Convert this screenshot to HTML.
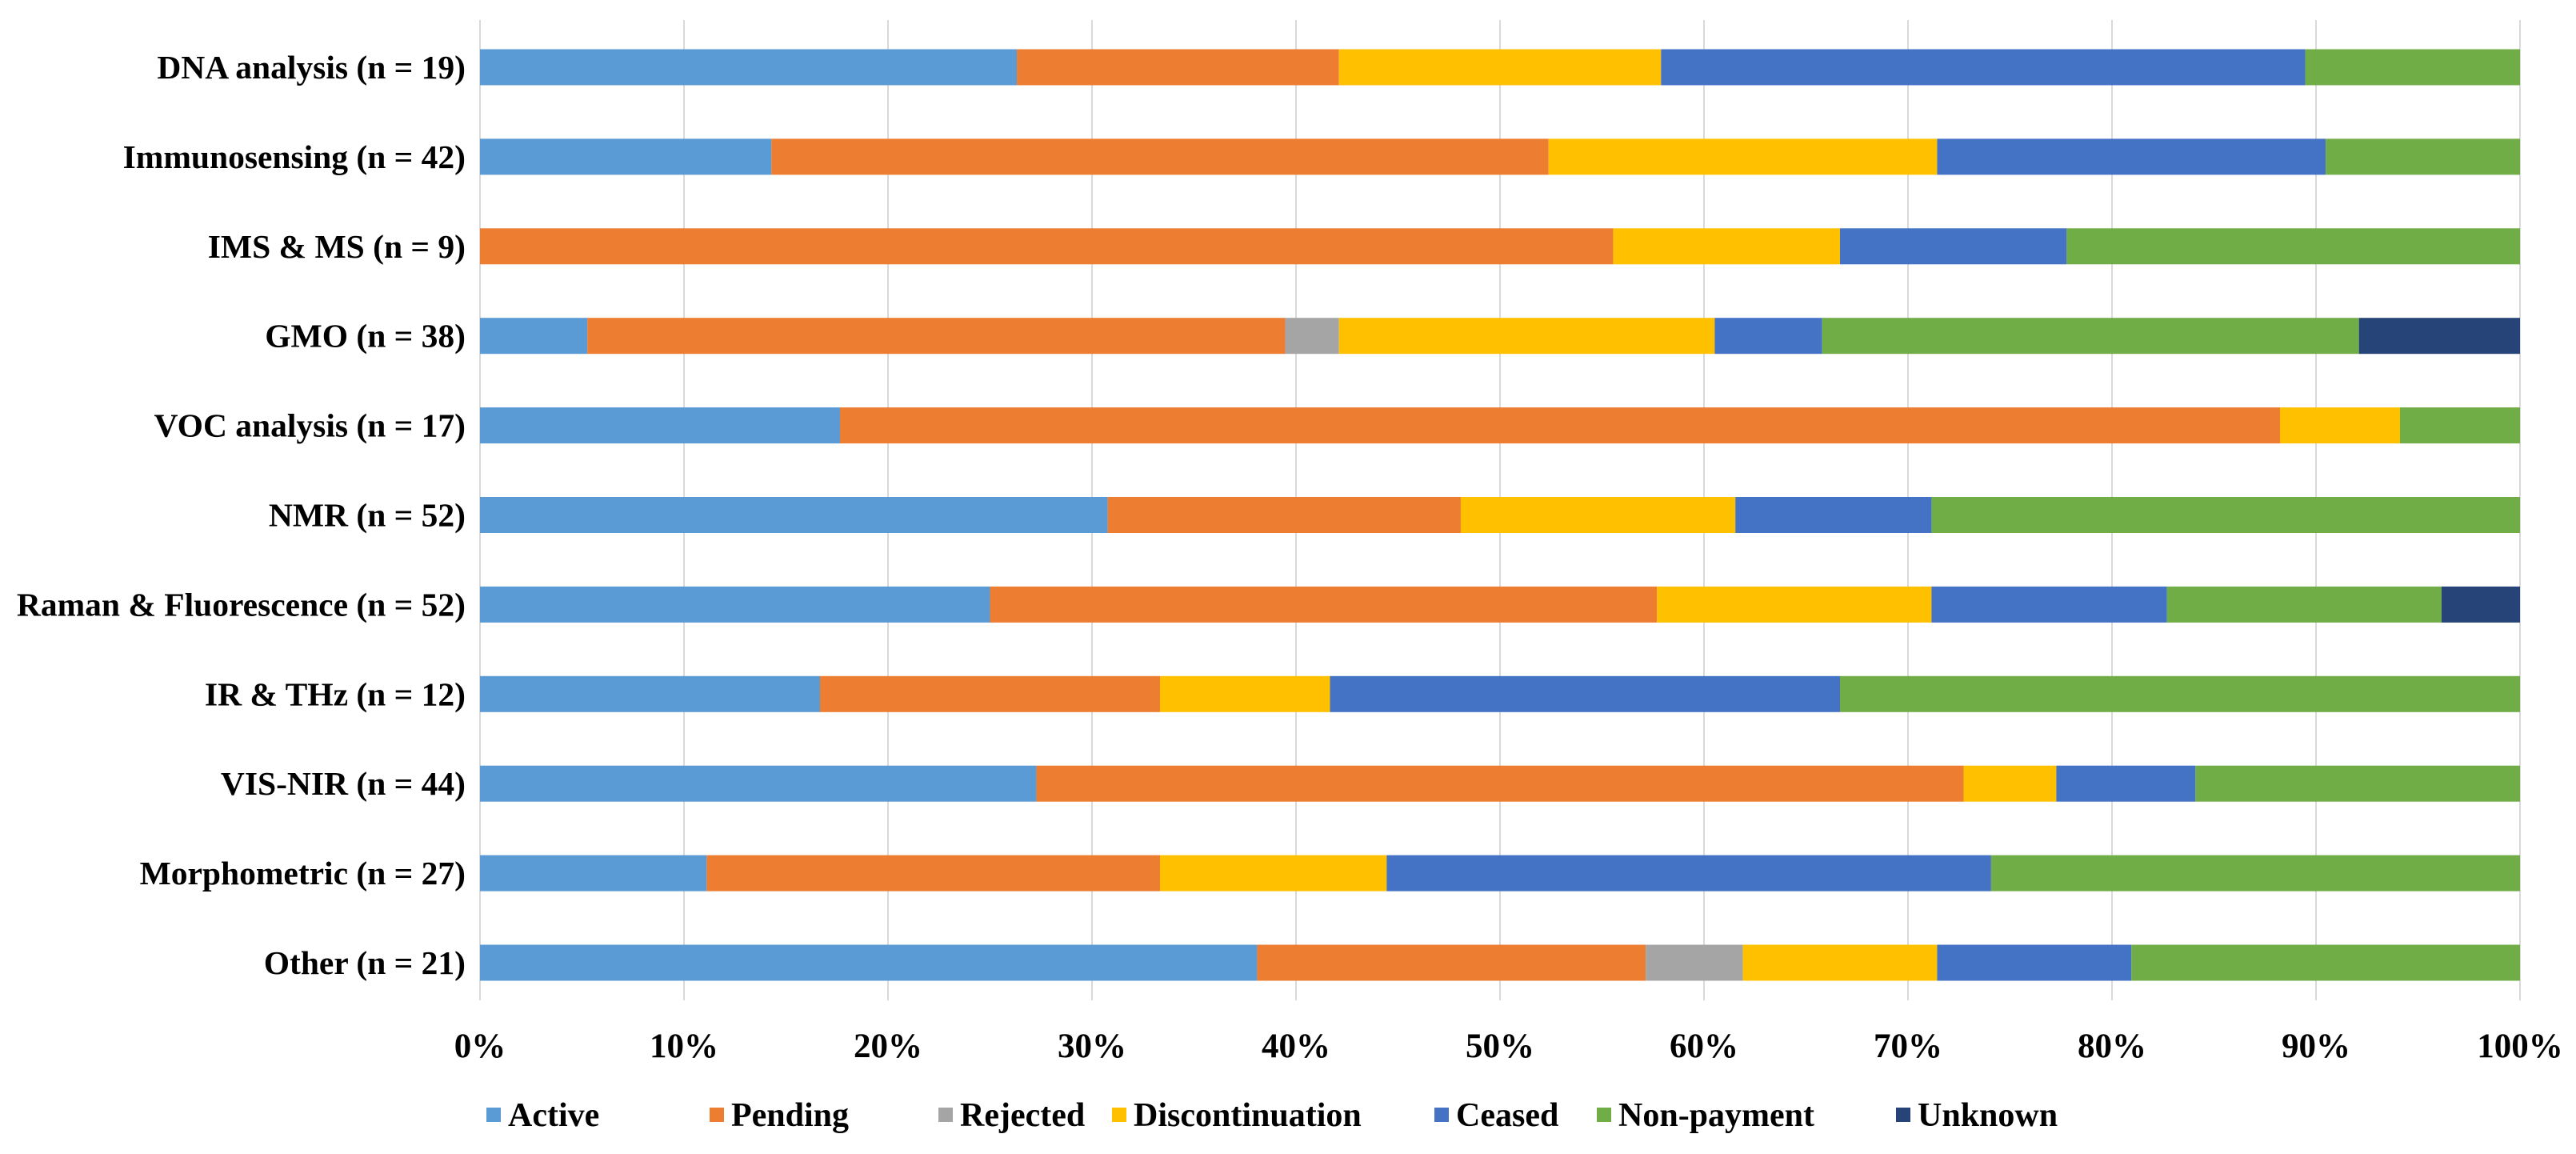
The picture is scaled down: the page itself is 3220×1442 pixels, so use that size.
<!DOCTYPE html>
<html><head><meta charset="utf-8"><style>
body{margin:0;background:#fff;}
svg text{font-family:"Liberation Serif",serif;font-weight:bold;fill:#000;}
</style></head><body>
<svg id="chart" width="3220" height="1437" xmlns="http://www.w3.org/2000/svg"></svg>
<script>
const categories=["DNA analysis (n  = 19)","Immunosensing (n = 42)","IMS & MS (n = 9)","GMO (n = 38)","VOC analysis (n = 17)","NMR (n = 52)","Raman & Fluorescence (n = 52)","IR & THz (n = 12)","VIS-NIR (n = 44)","Morphometric (n = 27)","Other (n = 21)"];
const seriesNames=["Active","Pending","Rejected","Discontinuation","Ceased","Non-payment","Unknown"];
const active=[5,6,0,2,3,16,13,2,12,3,8];
const pending=[3,16,5,13,12,9,17,2,20,6,4];
const rejected=[0,0,0,1,0,0,0,0,0,0,1];
const discontinuation=[3,8,1,7,1,7,7,1,2,3,2];
const ceased=[6,8,1,2,0,5,6,3,3,8,2];
const nonPayment=[2,4,2,10,1,15,7,4,7,7,4];
const unknown=[0,0,0,3,0,0,2,0,0,0,0];
const tickLabels=["0%","10%","20%","30%","40%","50%","60%","70%","80%","90%","100%"];
const colors=["#5B9BD5","#ED7D31","#A5A5A5","#FFC000","#4472C4","#70AD47","#264478"];
const series=[active,pending,rejected,discontinuation,ceased,nonPayment,unknown];
const L=600,R=3150,T0=84,STEP=111.9,BH=45;
const x=p=>L+(R-L)*p;
const y=i=>T0+STEP*i;
const svg=document.getElementById('chart');
const NS='http://www.w3.org/2000/svg';
function mk(t,a){const e=document.createElementNS(NS,t);for(const k in a)e.setAttribute(k,a[k]);svg.appendChild(e);return e;}
tickLabels.forEach((t,k)=>{
  const g=mk('line',{x1:x(k/10),x2:x(k/10),y1:25,y2:1250,stroke:'#d9d9d9','stroke-width':2});
  
  
  const tx=mk('text',{x:x(k/10),y:1321,'text-anchor':'middle','font-size':43});
  tx.textContent=t;
  
  
});
categories.forEach((c,i)=>{
  const tot=series.reduce((s,a)=>s+a[i],0);
  let acc=0;
  series.forEach((a,j)=>{
    if(a[i]>0){
      const r=mk('rect',{x:x(acc/tot),y:y(i)-BH/2,width:x((acc+a[i])/tot)-x(acc/tot),height:BH,fill:colors[j]});
      
      
    }
    acc+=a[i];
  });
  const tx=mk('text',{x:582,y:y(i)+14,'text-anchor':'end','font-size':41.5});
  tx.textContent=c;
  
  
});
const lx=[608,887,1173,1390,1793,1996,2370];
seriesNames.forEach((n,j)=>{
  const r=mk('rect',{x:lx[j],y:1384,width:18,height:18,fill:colors[j]});
  
  
  const t=mk('text',{x:lx[j]+27,y:1407,'font-size':42});
  t.textContent=n;
  
  
});
</script>
</body></html>
